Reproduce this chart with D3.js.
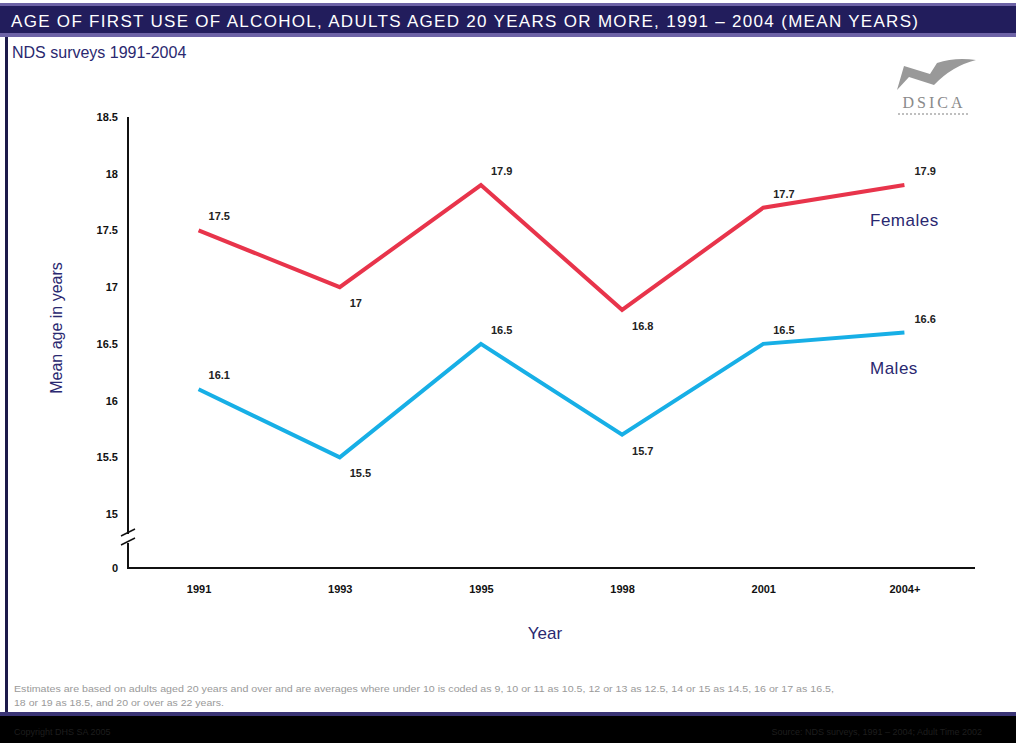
<!DOCTYPE html>
<html>
<head>
<meta charset="utf-8">
<script src="https://cdn.jsdelivr.net/npm/d3@7"></script>
<style>
  body { margin: 0; background: #fff; }
  svg { display: block; font-family: 'Liberation Sans', Arial, sans-serif; }
</style>
</head>
<body>
<div id="chart"></div>
<script>
// data
const years = ['1991', '1993', '1995', '1998', '2001', '2004+'];
const females = [17.5, 17, 17.9, 16.8, 17.7, 17.9];
const males = [16.1, 15.5, 16.5, 15.7, 16.5, 16.6];
const yTicks = [0, 15, 15.5, 16, 16.5, 17, 17.5, 18, 18.5];

// label offsets: above (-1) or below (1) the point
const femalePos = [-1, 1, -1, 1, -1, -1];
const malePos = [-1, 1, -1, 1, -1, -1];

const W = 1016, H = 743;
const navy = '#2a2870';

let svg = d3.select('#chart').append('svg')
    .attr('width', W)
    .attr('height', H);

// title bar
svg.append('rect').attr('x', 0).attr('y', 3).attr('width', W).attr('height', 34).attr('fill', '#6d63a6');
svg.append('rect').attr('x', 0).attr('y', 6).attr('width', W).attr('height', 27).attr('fill', '#221d5c');
svg.append('text')
    .attr('x', 11).attr('y', 27)
    .attr('fill', '#fff')
    .attr('font-size', 17)
    .attr('font-family', "'Liberation Sans Narrow', 'Liberation Sans', sans-serif")
    .attr('textLength', 907)
    .attr('lengthAdjust', 'spacing')
    .text('AGE OF FIRST USE OF ALCOHOL, ADULTS AGED 20 YEARS OR MORE, 1991 \u2013 2004 (MEAN YEARS)');

// left border
svg.append('rect').attr('x', 5).attr('y', 37).attr('width', 3).attr('height', 679).attr('fill', '#1d1a4a');

// bottom bar
svg.append('rect').attr('x', 0).attr('y', 712).attr('width', W).attr('height', 5).attr('fill', '#3a3475');
svg.append('rect').attr('x', 0).attr('y', 716).attr('width', W).attr('height', H - 716).attr('fill', '#000');
svg.append('text').attr('x', 14).attr('y', 735).attr('font-size', 9).attr('fill', '#1e1e1e')
    .text('Copyright  DHS SA 2005');
svg.append('text').attr('x', 982).attr('y', 735).attr('font-size', 9).attr('fill', '#1e1e1e')
    .attr('text-anchor', 'end')
    .text('Source: NDS surveys, 1991 \u2013 2004; Adult Time 2002');

// subtitle
svg.append('text').attr('x', 12).attr('y', 58).attr('font-size', 16).attr('fill', navy)
    .text('NDS surveys 1991-2004');

// logo
let logo = svg.append('g').attr('fill', '#8f8f8f');
logo.append('path')
    .attr('d', 'M897,90 L904,66 L930,74 L937,63 Q955,57 976,60 Q952,66 934,85 L909,77 Z')
    .attr('fill', '#999');
logo.append('text').attr('x', 934).attr('y', 108).attr('text-anchor', 'middle')
    .attr('font-family', "'Liberation Serif', serif").attr('font-size', 16)
    .attr('letter-spacing', 3).attr('fill', '#8a8a8a')
    .text('DSICA');
logo.append('line').attr('x1', 898).attr('x2', 970).attr('y1', 114).attr('y2', 114)
    .attr('stroke', '#aaa').attr('stroke-width', 1.5).attr('stroke-dasharray', '2,2');

// scales
const x = d3.scalePoint().domain(years).range([128, 975]).padding(0.5);
const y = d3.scaleLinear().domain([0, 15, 18.5]).range([568, 514, 117]);

// axes
let yAxis = d3.axisLeft(y).tickValues(yTicks).tickSize(0).tickPadding(10)
    .tickFormat(function (d) { return d; });
let gy = svg.append('g').attr('transform', 'translate(128,0)').call(yAxis);
gy.select('.domain').remove();
gy.selectAll('text').attr('font-size', 11).attr('fill', '#111').attr('font-weight', 'bold');

let xAxis = d3.axisBottom(x).tickSize(0).tickPadding(17);
let gx = svg.append('g').attr('transform', 'translate(0,568)').call(xAxis);
gx.select('.domain').remove();
gx.selectAll('text').attr('font-size', 11).attr('fill', '#111').attr('font-weight', 'bold');

// axis lines with break
svg.append('line').attr('x1', 128).attr('x2', 128).attr('y1', y(18.5)).attr('y2', 534)
    .attr('stroke', '#111').attr('stroke-width', 2);
svg.append('line').attr('x1', 128).attr('x2', 128).attr('y1', 543).attr('y2', 569)
    .attr('stroke', '#111').attr('stroke-width', 2);
svg.append('line').attr('x1', 127).attr('x2', 975).attr('y1', 568).attr('y2', 568)
    .attr('stroke', '#111').attr('stroke-width', 2);
svg.append('line').attr('x1', 121).attr('x2', 135).attr('y1', 536).attr('y2', 529)
    .attr('stroke', '#111').attr('stroke-width', 1.5);
svg.append('line').attr('x1', 121).attr('x2', 135).attr('y1', 545).attr('y2', 538)
    .attr('stroke', '#111').attr('stroke-width', 1.5);

// axis titles
svg.append('text').attr('transform', 'translate(62,328) rotate(-90)')
    .attr('text-anchor', 'middle').attr('font-size', 16).attr('fill', navy)
    .text('Mean age in years');
svg.append('text').attr('x', 545).attr('y', 639).attr('text-anchor', 'middle')
    .attr('font-size', 17).attr('fill', navy)
    .text('Year');

// lines
let line = d3.line()
    .x(function (d, i) { return x(years[i]); })
    .y(function (d) { return y(d); });

svg.append('path').datum(females).attr('d', line)
    .attr('fill', 'none').attr('stroke', '#e8344b').attr('stroke-width', 4);
svg.append('path').datum(males).attr('d', line)
    .attr('fill', 'none').attr('stroke', '#17afe6').attr('stroke-width', 4);

// value labels
function addLabels(values, pos) {
    svg.selectAll(null).data(values).enter().append('text')
        .attr('x', function (d, i) { return x(years[i]) + 10; })
        .attr('y', function (d, i) { return y(d) + (pos[i] < 0 ? -10 : 20); })
        .attr('font-size', 11).attr('font-weight', 'bold').attr('fill', '#222')
        .text(function (d) { return d % 1 === 0 ? d : d.toFixed(1); });
}
addLabels(females, femalePos);
addLabels(males, malePos);

// series names
svg.append('text').attr('x', 870).attr('y', 226).attr('font-size', 17).attr('fill', navy)
    .attr('letter-spacing', 0.5).text('Females');
svg.append('text').attr('x', 870).attr('y', 374).attr('font-size', 17).attr('fill', navy)
    .attr('letter-spacing', 0.5).text('Males');

// footnote
svg.append('text').attr('x', 14).attr('y', 692).attr('font-size', 9).attr('fill', '#9a9a9a')
    .attr('textLength', 820).attr('lengthAdjust', 'spacingAndGlyphs')
    .text('Estimates are based on adults aged 20 years and over and are averages where under 10 is coded as 9, 10 or 11 as 10.5, 12 or 13 as 12.5, 14 or 15 as 14.5, 16 or 17 as 16.5,');
svg.append('text').attr('x', 14).attr('y', 706).attr('font-size', 9).attr('fill', '#9a9a9a')
    .attr('textLength', 210).attr('lengthAdjust', 'spacingAndGlyphs')
    .text('18 or 19 as 18.5, and 20 or over as 22 years.');
</script>
</body>
</html>
